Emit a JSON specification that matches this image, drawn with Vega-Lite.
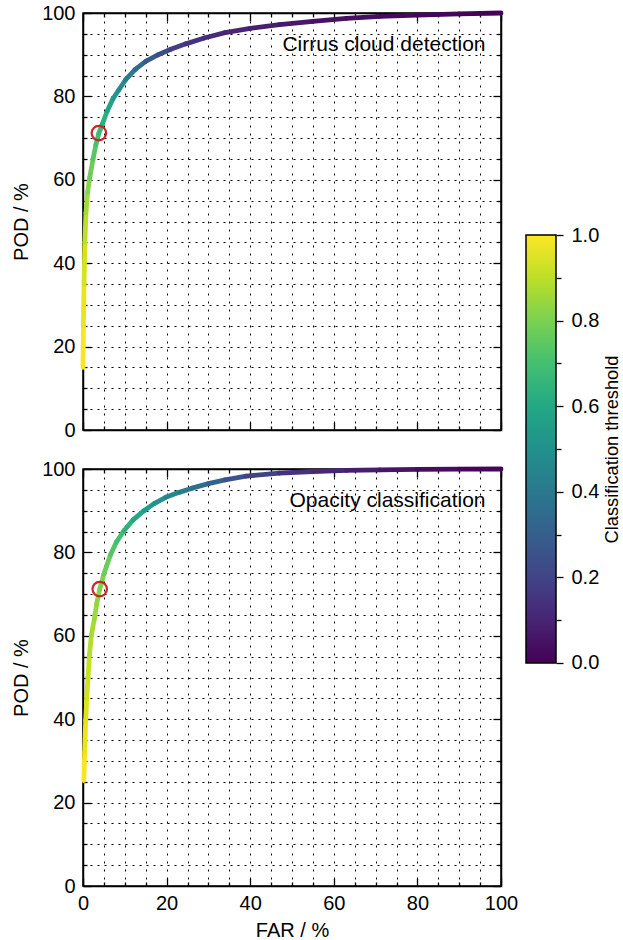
{
  "$schema": "https://vega.github.io/schema/vega-lite/v6.json",
  "padding": {"left": 10, "top": 2, "right": 0, "bottom": 0},
  "config": {
    "font": "Liberation Sans",
    "view": {"stroke": "black", "strokeWidth": 1.5},
    "axis": {
      "labelFont": "Liberation Sans", "titleFont": "Liberation Sans",
      "labelFontSize": 20, "titleFontSize": 20, "titleFontWeight": "normal",
      "labelColor": "black", "titleColor": "black",
      "domainColor": "black", "domainWidth": 1.5,
      "tickColor": "black", "tickWidth": 1.3,
      "labelFlush": false, "labelOverlap": false
    }
  },
  "datasets": {
    "cirrus": [
      {"far": 0, "pod": 15, "far2": 0.1, "pod2": 25, "thr": 0.99},
      {"far": 0.1, "pod": 25, "far2": 0.25, "pod2": 35, "thr": 0.97},
      {"far": 0.25, "pod": 35, "far2": 0.45, "pod2": 45, "thr": 0.94},
      {"far": 0.45, "pod": 45, "far2": 0.7, "pod2": 52, "thr": 0.9},
      {"far": 0.7, "pod": 52, "far2": 1.1, "pod2": 57, "thr": 0.86},
      {"far": 1.1, "pod": 57, "far2": 1.6, "pod2": 60.5, "thr": 0.82},
      {"far": 1.6, "pod": 60.5, "far2": 2.4, "pod2": 65, "thr": 0.78},
      {"far": 2.4, "pod": 65, "far2": 3.1, "pod2": 68.5, "thr": 0.74},
      {"far": 3.1, "pod": 68.5, "far2": 3.8, "pod2": 71.2, "thr": 0.705},
      {"far": 3.8, "pod": 71.2, "far2": 4.6, "pod2": 73.3, "thr": 0.675},
      {"far": 4.6, "pod": 73.3, "far2": 5.8, "pod2": 76.5, "thr": 0.635},
      {"far": 5.8, "pod": 76.5, "far2": 7.2, "pod2": 79.5, "thr": 0.585},
      {"far": 7.2, "pod": 79.5, "far2": 8.6, "pod2": 81.6, "thr": 0.535},
      {"far": 8.6, "pod": 81.6, "far2": 10.2, "pod2": 84, "thr": 0.48},
      {"far": 10.2, "pod": 84, "far2": 12.5, "pod2": 86.5, "thr": 0.415},
      {"far": 12.5, "pod": 86.5, "far2": 15, "pod2": 88.4, "thr": 0.345},
      {"far": 15, "pod": 88.4, "far2": 18, "pod2": 90, "thr": 0.28},
      {"far": 18, "pod": 90, "far2": 21, "pod2": 91.3, "thr": 0.225},
      {"far": 21, "pod": 91.3, "far2": 24.6, "pod2": 92.6, "thr": 0.18},
      {"far": 24.6, "pod": 92.6, "far2": 29, "pod2": 94, "thr": 0.145},
      {"far": 29, "pod": 94, "far2": 34, "pod2": 95.3, "thr": 0.12},
      {"far": 34, "pod": 95.3, "far2": 40, "pod2": 96.3, "thr": 0.1},
      {"far": 40, "pod": 96.3, "far2": 47, "pod2": 97.2, "thr": 0.08},
      {"far": 47, "pod": 97.2, "far2": 55, "pod2": 98, "thr": 0.06},
      {"far": 55, "pod": 98, "far2": 63, "pod2": 98.7, "thr": 0.045},
      {"far": 63, "pod": 98.7, "far2": 71, "pod2": 99.2, "thr": 0.035},
      {"far": 71, "pod": 99.2, "far2": 80, "pod2": 99.5, "thr": 0.025},
      {"far": 80, "pod": 99.5, "far2": 90, "pod2": 99.8, "thr": 0.015},
      {"far": 90, "pod": 99.8, "far2": 100, "pod2": 100, "thr": 0.005}
    ],
    "opacity": [
      {"far": 0.2, "pod": 25.3, "far2": 0.4, "pod2": 32, "thr": 0.99},
      {"far": 0.4, "pod": 32, "far2": 0.64, "pod2": 39.7, "thr": 0.97},
      {"far": 0.64, "pod": 39.7, "far2": 0.9, "pod2": 45, "thr": 0.95},
      {"far": 0.9, "pod": 45, "far2": 1.2, "pod2": 50.1, "thr": 0.93},
      {"far": 1.2, "pod": 50.1, "far2": 1.55, "pod2": 55.5, "thr": 0.91},
      {"far": 1.55, "pod": 55.5, "far2": 2.0, "pod2": 60.1, "thr": 0.89},
      {"far": 2.0, "pod": 60.1, "far2": 2.7, "pod2": 64, "thr": 0.87},
      {"far": 2.7, "pod": 64, "far2": 3.3, "pod2": 67.8, "thr": 0.85},
      {"far": 3.3, "pod": 67.8, "far2": 4.0, "pod2": 71.2, "thr": 0.83},
      {"far": 4.0, "pod": 71.2, "far2": 5.0, "pod2": 74.8, "thr": 0.805},
      {"far": 5.0, "pod": 74.8, "far2": 6.6, "pod2": 79.5, "thr": 0.77},
      {"far": 6.6, "pod": 79.5, "far2": 8.0, "pod2": 82.5, "thr": 0.73},
      {"far": 8.0, "pod": 82.5, "far2": 9.8, "pod2": 85.2, "thr": 0.69},
      {"far": 9.8, "pod": 85.2, "far2": 12, "pod2": 87.8, "thr": 0.645},
      {"far": 12, "pod": 87.8, "far2": 14.6, "pod2": 90, "thr": 0.595},
      {"far": 14.6, "pod": 90, "far2": 17, "pod2": 91.7, "thr": 0.55},
      {"far": 17, "pod": 91.7, "far2": 19.8, "pod2": 93.2, "thr": 0.51},
      {"far": 19.8, "pod": 93.2, "far2": 23, "pod2": 94.4, "thr": 0.465},
      {"far": 23, "pod": 94.4, "far2": 26.1, "pod2": 95.4, "thr": 0.415},
      {"far": 26.1, "pod": 95.4, "far2": 30, "pod2": 96.5, "thr": 0.36},
      {"far": 30, "pod": 96.5, "far2": 34, "pod2": 97.4, "thr": 0.305},
      {"far": 34, "pod": 97.4, "far2": 39, "pod2": 98.3, "thr": 0.25},
      {"far": 39, "pod": 98.3, "far2": 47, "pod2": 99, "thr": 0.19},
      {"far": 47, "pod": 99, "far2": 55, "pod2": 99.4, "thr": 0.14},
      {"far": 55, "pod": 99.4, "far2": 63, "pod2": 99.65, "thr": 0.105},
      {"far": 63, "pod": 99.65, "far2": 71, "pod2": 99.8, "thr": 0.075},
      {"far": 71, "pod": 99.8, "far2": 80, "pod2": 99.9, "thr": 0.05},
      {"far": 80, "pod": 99.9, "far2": 90, "pod2": 99.95, "thr": 0.03},
      {"far": 90, "pod": 99.95, "far2": 100, "pod2": 100, "thr": 0.01}
    ],
    "opCirrus": [{"far": 3.8, "pod": 71.2}],
    "opOpacity": [{"far": 4.0, "pod": 71.2}]
  },
  "spacing": 6,
  "hconcat": [
    {
      "bounds": "flush",
      "spacing": 39,
      "vconcat": [
        {
          "width": 418, "height": 417,
          "resolve": {"axis": {"x": "independent", "y": "independent"}},
          "layer": [
            {
              "data": {"name": "cirrus"},
              "mark": {"type": "rule", "strokeWidth": 4.8, "strokeCap": "round"},
              "encoding": {
                "x": {"field": "far", "type": "quantitative", "scale": {"domain": [0, 100], "nice": false},
                  "axis": {"orient": "bottom", "values": [0,5,10,15,20,25,30,35,40,45,50,55,60,65,70,75,80,85,90,95,100],
                    "labels": false, "title": null,
                    "tickSize": {"condition": {"test": "datum.value % 20 === 0", "value": -8}, "value": -4},
                    "grid": true, "gridDash": [2, 6], "gridColor": "black", "gridWidth": 1}},
                "y": {"field": "pod", "type": "quantitative", "scale": {"domain": [0, 100], "nice": false},
                  "axis": {"orient": "left", "values": [0,5,10,15,20,25,30,35,40,45,50,55,60,65,70,75,80,85,90,95,100],
                    "labelExpr": "datum.value % 20 === 0 ? datum.label : ''",
                    "tickSize": {"condition": {"test": "datum.value % 20 === 0", "value": -8}, "value": -4},
                    "labelPadding": 16, "title": "POD / %", "titlePadding": 10,
                    "grid": true, "gridDash": [2, 5], "gridColor": "black", "gridWidth": 1}},
                "x2": {"field": "far2"},
                "y2": {"field": "pod2"},
                "color": {"field": "thr", "type": "quantitative", "scale": {"scheme": "viridis", "domain": [0, 1]}, "legend": null}
              }
            },
            {
              "data": {"name": "opCirrus"},
              "mark": {"type": "point", "shape": "circle", "size": 210, "filled": false, "color": "#cc2229", "strokeWidth": 2.2, "opacity": 1},
              "encoding": {
                "x": {"field": "far", "type": "quantitative", "scale": {"domain": [0, 100], "nice": false},
                  "axis": {"orient": "top", "values": [0,5,10,15,20,25,30,35,40,45,50,55,60,65,70,75,80,85,90,95,100],
                    "labels": false, "title": null, "grid": false,
                    "tickSize": {"condition": {"test": "datum.value % 20 === 0", "value": -8}, "value": -4}}},
                "y": {"field": "pod", "type": "quantitative", "scale": {"domain": [0, 100], "nice": false},
                  "axis": {"orient": "right", "values": [0,5,10,15,20,25,30,35,40,45,50,55,60,65,70,75,80,85,90,95,100],
                    "labels": false, "title": null, "grid": false,
                    "tickSize": {"condition": {"test": "datum.value % 20 === 0", "value": -8}, "value": -4}}}
              }
            },
            {
              "data": {"values": [{"label": "Cirrus cloud detection"}]},
              "mark": {"type": "text", "align": "right", "baseline": "middle", "fontSize": 21, "font": "Liberation Sans", "color": "black"},
              "encoding": {
                "x": {"datum": 96.3, "type": "quantitative", "axis": null},
                "y": {"datum": 92.4, "type": "quantitative", "axis": null},
                "text": {"field": "label"}
              }
            }
          ]
        },
        {
          "width": 418, "height": 417,
          "resolve": {"axis": {"x": "independent", "y": "independent"}},
          "layer": [
            {
              "data": {"name": "opacity"},
              "mark": {"type": "rule", "strokeWidth": 4.8, "strokeCap": "round"},
              "encoding": {
                "x": {"field": "far", "type": "quantitative", "scale": {"domain": [0, 100], "nice": false},
                  "axis": {"orient": "bottom", "values": [0,5,10,15,20,25,30,35,40,45,50,55,60,65,70,75,80,85,90,95,100],
                    "labelExpr": "datum.value % 20 === 0 ? datum.label : ''",
                    "tickSize": {"condition": {"test": "datum.value % 20 === 0", "value": -8}, "value": -4},
                    "labelPadding": 15, "title": "FAR / %", "titlePadding": 3,
                    "grid": true, "gridDash": [2, 6], "gridColor": "black", "gridWidth": 1}},
                "y": {"field": "pod", "type": "quantitative", "scale": {"domain": [0, 100], "nice": false},
                  "axis": {"orient": "left", "values": [0,5,10,15,20,25,30,35,40,45,50,55,60,65,70,75,80,85,90,95,100],
                    "labelExpr": "datum.value % 20 === 0 ? datum.label : ''",
                    "tickSize": {"condition": {"test": "datum.value % 20 === 0", "value": -8}, "value": -4},
                    "labelPadding": 16, "title": "POD / %", "titlePadding": 10,
                    "grid": true, "gridDash": [2, 5], "gridColor": "black", "gridWidth": 1}},
                "x2": {"field": "far2"},
                "y2": {"field": "pod2"},
                "color": {"field": "thr", "type": "quantitative", "scale": {"scheme": "viridis", "domain": [0, 1]}, "legend": null}
              }
            },
            {
              "data": {"name": "opOpacity"},
              "mark": {"type": "point", "shape": "circle", "size": 210, "filled": false, "color": "#cc2229", "strokeWidth": 2.2, "opacity": 1},
              "encoding": {
                "x": {"field": "far", "type": "quantitative", "scale": {"domain": [0, 100], "nice": false},
                  "axis": {"orient": "top", "values": [0,5,10,15,20,25,30,35,40,45,50,55,60,65,70,75,80,85,90,95,100],
                    "labels": false, "title": null, "grid": false,
                    "tickSize": {"condition": {"test": "datum.value % 20 === 0", "value": -8}, "value": -4}}},
                "y": {"field": "pod", "type": "quantitative", "scale": {"domain": [0, 100], "nice": false},
                  "axis": {"orient": "right", "values": [0,5,10,15,20,25,30,35,40,45,50,55,60,65,70,75,80,85,90,95,100],
                    "labels": false, "title": null, "grid": false,
                    "tickSize": {"condition": {"test": "datum.value % 20 === 0", "value": -8}, "value": -4}}}
              }
            },
            {
              "data": {"values": [{"label": "Opacity classification"}]},
              "mark": {"type": "text", "align": "right", "baseline": "middle", "fontSize": 21, "font": "Liberation Sans", "color": "black"},
              "encoding": {
                "x": {"datum": 96.3, "type": "quantitative", "axis": null},
                "y": {"datum": 92.4, "type": "quantitative", "axis": null},
                "text": {"field": "label"}
              }
            }
          ]
        }
      ]
    },
    {
      "width": 30, "height": 872,
      "view": {"stroke": null},
      "data": {"values": [{"lo": 0, "hi": 1}]},
      "mark": {"type": "rect", "stroke": "black", "strokeWidth": 1.5,
        "fill": {"gradient": "linear", "x1": 0, "y1": 1, "x2": 0, "y2": 0,
          "stops": [
            {"offset": 0.0, "color": "#440154"},
            {"offset": 0.1, "color": "#482475"},
            {"offset": 0.2, "color": "#414487"},
            {"offset": 0.3, "color": "#355f8d"},
            {"offset": 0.4, "color": "#2a788e"},
            {"offset": 0.5, "color": "#21918c"},
            {"offset": 0.6, "color": "#22a884"},
            {"offset": 0.7, "color": "#44bf70"},
            {"offset": 0.8, "color": "#7ad151"},
            {"offset": 0.9, "color": "#bddf26"},
            {"offset": 1.0, "color": "#fde725"}
          ]}},
      "encoding": {
        "y": {"field": "lo", "type": "quantitative", "scale": {"domain": [-0.5187, 1.5187], "nice": false, "zero": false},
          "axis": {"orient": "right", "values": [0, 0.1, 0.2, 0.3, 0.4, 0.5, 0.6, 0.7, 0.8, 0.9, 1.0],
            "labelExpr": "round(datum.value * 10) % 2 === 0 ? format(datum.value, '.1f') : ''",
            "tickSize": {"condition": {"test": "round(datum.value * 10) % 2 === 0", "value": 7}, "value": 5},
            "labelPadding": 8, "domain": false, "grid": false,
            "title": "Classification threshold", "titleAngle": 270, "titleBaseline": "top", "titleFontSize": 18.3, "titlePadding": 5}},
        "y2": {"field": "hi"}
      }
    }
  ]
}
